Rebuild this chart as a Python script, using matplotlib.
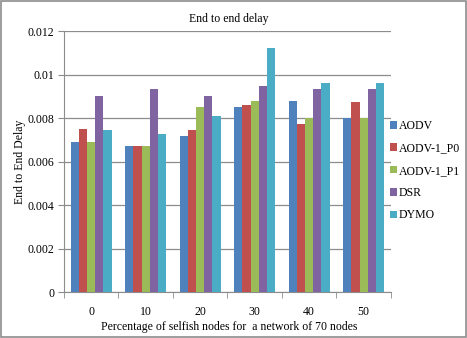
import numpy as np
import matplotlib
matplotlib.use("Agg")
import matplotlib.pyplot as plt
from matplotlib.patches import Rectangle

plt.rcParams['font.family'] = ['Liberation Serif', 'DejaVu Serif']

# data
categories = ['0', '10', '20', '30', '40', '50']
series_names = ['AODV', 'AODV-1_P0', 'AODV-1_P1', 'DSR', 'DYMO']
aodv = [0.00691, 0.00673, 0.00716, 0.00852, 0.00878, 0.00800]
aodv_p0 = [0.00749, 0.00673, 0.00743, 0.00858, 0.00774, 0.00872]
aodv_p1 = [0.00691, 0.00673, 0.00852, 0.00878, 0.00800, 0.00800]
dsr = [0.00903, 0.00936, 0.00901, 0.00947, 0.00936, 0.00933]
dymo = [0.00746, 0.00726, 0.00809, 0.01122, 0.00961, 0.00961]
yticks = [0, 0.002, 0.004, 0.006, 0.008, 0.01, 0.012]
ytick_labels = ['0', '0.002', '0.004', '0.006', '0.008', '0.01', '0.012']

colors = ['#4F81BD', '#C0504D', '#9BBB59', '#8064A2', '#4BACC6']

fig = plt.figure(figsize=(4.67, 3.38), dpi=100)
ax = fig.add_axes([0.137, 0.136, 0.70, 0.772])

x = np.arange(len(categories))
bar_w = 0.15
all_series = [aodv, aodv_p0, aodv_p1, dsr, dymo]
for i, (vals, name, col) in enumerate(zip(all_series, series_names, colors)):
    ax.bar(x + (i - 2) * bar_w, vals, bar_w, color=col, label=name, zorder=3)

ax.set_xlim(-0.5, len(categories) - 0.5)
ax.set_ylim(0, 0.012)
ax.set_yticks(yticks)
ax.set_yticklabels(ytick_labels)
ax.set_xticks(x)
ax.set_xticklabels(categories)
ax.set_xticks(np.arange(-0.5, len(categories)), minor=True)

ax.grid(axis='y', color='#8c8c8c', linewidth=0.9, zorder=0)
ax.set_axisbelow(True)
for s in ['top', 'right']:
    ax.spines[s].set_visible(False)
for s in ['left', 'bottom']:
    ax.spines[s].set_color('#8c8c8c')
ax.tick_params(axis='y', length=4, color='#8c8c8c', labelsize=8.5, pad=3)
ax.tick_params(axis='x', which='major', length=0, labelsize=8.5, pad=10)
ax.tick_params(axis='x', which='minor', length=4, color='#8c8c8c')

fig.text(0.49, 0.944, 'End to end delay', ha='center', va='center', fontsize=8.5)
fig.text(0.49, 0.033, 'Percentage of selfish nodes for  a network of 70 nodes',
         ha='center', va='center', fontsize=8.5)
fig.text(0.042, 0.52, 'End to End Delay', ha='center', va='center',
         rotation=90, fontsize=8.5)

ax.legend(loc='center left', bbox_to_anchor=(0.982, 0.465), frameon=False,
          fontsize=8.5, handlelength=0.6, handleheight=0.6, handletextpad=0.15,
          labelspacing=0.88, borderaxespad=0.0)

# outer chart border
fig.patches.append(Rectangle((0.003, 0.004), 0.994, 0.992, transform=fig.transFigure,
                             fill=False, edgecolor='#8c8c8c', linewidth=1.2))

fig.savefig('out.png', dpi=100)
